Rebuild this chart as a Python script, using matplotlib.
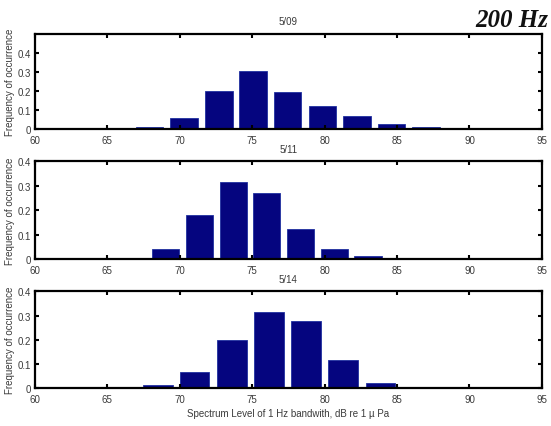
import matplotlib
matplotlib.use('Agg')
from matplotlib import pyplot as plt

# ----------------------------------------------------------------------------
# DATA (histogram bin centres and frequencies)
titles = ['5/09', '5/11', '5/14']

centers_509 = [67.9, 70.3, 72.7, 75.05, 77.45, 79.85, 82.25, 84.6, 87.0, 89.3]
freq_509 = [0.010, 0.060, 0.200, 0.305, 0.197, 0.119, 0.066, 0.026, 0.011, 0.003]

centers_511 = [66.9, 69.0, 71.35, 73.7, 76.0, 78.35, 80.7, 83.0, 85.35, 87.7]
freq_511 = [0.002, 0.041, 0.179, 0.316, 0.271, 0.124, 0.041, 0.011, 0.0, 0.0]

centers_514 = [65.9, 68.5, 71.0, 73.6, 76.15, 78.7, 81.25, 83.85, 86.4, 88.9]
freq_514 = [0.003, 0.012, 0.065, 0.197, 0.317, 0.276, 0.115, 0.020, 0.004, 0.003]

xticks = [60, 65, 70, 75, 80, 85, 90, 95]
yticks = [0, 0.1, 0.2, 0.3, 0.4]
ylims = [0.5, 0.4, 0.4]
# ----------------------------------------------------------------------------

plt.rcParams['font.family'] = ['Liberation Sans', 'DejaVu Sans']
txt_col = '#3a3a3a'

fig = plt.figure(figsize=(5.51, 4.27), dpi=100)

# axes rectangles in figure fractions
rects = [[0.0635, 0.6956, 0.920, 0.2225],
         [0.0635, 0.3910, 0.920, 0.2285],
         [0.0635, 0.0890, 0.920, 0.2260]]

data = [(centers_509, freq_509, 1.90),
        (centers_511, freq_511, 1.88),
        (centers_514, freq_514, 2.04)]

for i, (rect, (cx, fy, w)) in enumerate(zip(rects, data)):
    ax = fig.add_axes(rect)
    ax.bar(cx, fy, width=w, color='#05057f', edgecolor='#2030a0', linewidth=0.6)
    ax.set_xlim(60, 95)
    ax.set_ylim(0, ylims[i])
    ax.set_xticks(xticks)
    ax.set_yticks(yticks)
    ax.set_yticklabels(['0', '0.1', '0.2', '0.3', '0.4'])
    ax.tick_params(direction='in', length=3, width=1.5, top=True, right=True,
                   labelsize=7, labelcolor=txt_col)
    ax.tick_params(axis='x', pad=4)
    ax.tick_params(axis='y', pad=3)
    for sp in ax.spines.values():
        sp.set_linewidth(1.6)
    ax.set_title(titles[i], fontsize=7, color=txt_col, pad=7)
    ax.set_ylabel('Frequency of occurrence', fontsize=7, color=txt_col, labelpad=2)
    if i == 2:
        ax.set_xlabel('Spectrum Level of 1 Hz bandwith, dB re 1 \u00b5 Pa',
                      fontsize=7, color=txt_col, labelpad=3)

fig.text(0.996, 0.937, '200 Hz', fontsize=18, fontweight='bold', fontstyle='italic',
         family='Liberation Serif', ha='right', va='baseline', color='#111111')

plt.savefig('out.png', dpi=100)
